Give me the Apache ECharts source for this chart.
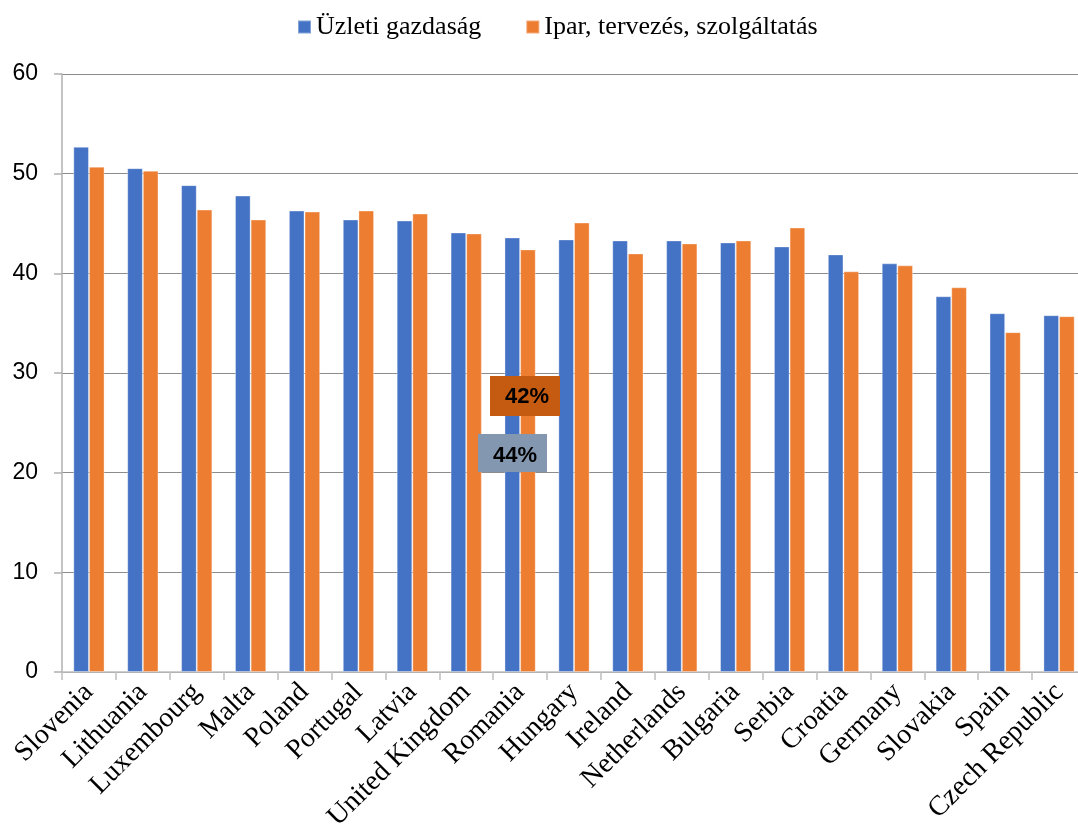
<!DOCTYPE html>
<html>
<head>
<meta charset="utf-8">
<script src="https://cdn.jsdelivr.net/npm/echarts@6/dist/echarts.min.js"></script>
<style>
  html, body { margin: 0; padding: 0; background: #fff; }
  #chart { width: 1078px; height: 829px; }
</style>
</head>
<body>
<div id="chart"></div>
<script>
const categories = ["Slovenia", "Lithuania", "Luxembourg", "Malta", "Poland", "Portugal", "Latvia", "United Kingdom", "Romania", "Hungary", "Ireland", "Netherlands", "Bulgaria", "Serbia", "Croatia", "Germany", "Slovakia", "Spain", "Czech Republic"];
const seriesNames = ["Üzleti gazdaság", "Ipar, tervezés, szolgáltatás"];
const businessValues = [52.7, 50.55, 48.85, 47.8, 46.3, 45.4, 45.3, 44.1, 43.6, 43.4, 43.3, 43.3, 43.1, 42.7, 41.9, 41.0, 37.7, 36.0, 35.8];
const industryValues = [50.7, 50.3, 46.4, 45.4, 46.2, 46.3, 46.0, 44.0, 42.4, 45.1, 42.0, 43.0, 43.3, 44.6, 40.2, 40.8, 38.6, 34.1, 35.7];
const yTicks = [0, 10, 20, 30, 40, 50, 60];
const annotations = ["42%", "44%"];

const chart = echarts.init(document.getElementById('chart'), null, { renderer: 'canvas' });

const option = {
  backgroundColor: '#ffffff',
  animation: false,
  color: ['#4472C4', '#ED7D31'],
  legend: {
    data: seriesNames,
    top: 9,
    left: 292,
    itemWidth: 13,
    itemHeight: 13,
    itemGap: 44,
    icon: 'rect',
    textStyle: { fontFamily: 'Liberation Serif', fontSize: 26, color: '#000' }
  },
  grid: { left: 62, top: 74, width: 1024, bottom: 157, containLabel: false, outerBoundsMode: 'none' },
  xAxis: {
    type: 'category',
    data: categories,
    axisLine: { show: true, lineStyle: { color: '#bfbfbf', width: 1.5 } },
    axisTick: { show: true, alignWithLabel: false, length: 8, lineStyle: { color: '#bfbfbf', width: 1.5 } },
    axisLabel: {
      rotate: 45,
      interval: 0,
      margin: 16,
      fontFamily: 'Liberation Serif',
      fontSize: 28,
      color: '#000'
    }
  },
  yAxis: {
    type: 'value',
    min: yTicks[0],
    max: yTicks[yTicks.length - 1],
    interval: 10,
    axisLine: { show: true, lineStyle: { color: '#b0b0b0', width: 1.5 } },
    axisTick: { show: true, length: 8, lineStyle: { color: '#b0b0b0', width: 1.5 } },
    axisLabel: { margin: 24, fontFamily: 'Liberation Sans', fontSize: 23, color: '#000' },
    splitLine: { show: true, lineStyle: { color: '#8c8c8c', width: 1.2 } }
  },
  series: [
    {
      name: seriesNames[0],
      type: 'bar',
      data: businessValues,
      barGap: '0%',
      barCategoryGap: '42%',
      itemStyle: { color: '#4472C4', borderColor: 'rgba(255,255,255,0.35)', borderWidth: 1 }
    },
    {
      name: seriesNames[1],
      type: 'bar',
      data: industryValues,
      barGap: '0%',
      barCategoryGap: '42%',
      itemStyle: { color: '#ED7D31', borderColor: 'rgba(255,255,255,0.35)', borderWidth: 1 }
    }
  ],
  graphic: [
    {
      type: 'rect', left: 490, top: 376, z: 100,
      shape: { width: 70, height: 40 }, style: { fill: '#C55A11' }
    },
    {
      type: 'text', left: 505, top: 386, z: 101,
      style: { text: annotations[0], fill: '#000', font: 'bold 22px "Liberation Sans"' }
    },
    {
      type: 'rect', left: 478, top: 434, z: 100,
      shape: { width: 69, height: 38 }, style: { fill: '#8497B0' }
    },
    {
      type: 'text', left: 493, top: 445, z: 101,
      style: { text: annotations[1], fill: '#000', font: 'bold 22px "Liberation Sans"' }
    }
  ]
};

chart.setOption(option);
</script>
</body>
</html>
